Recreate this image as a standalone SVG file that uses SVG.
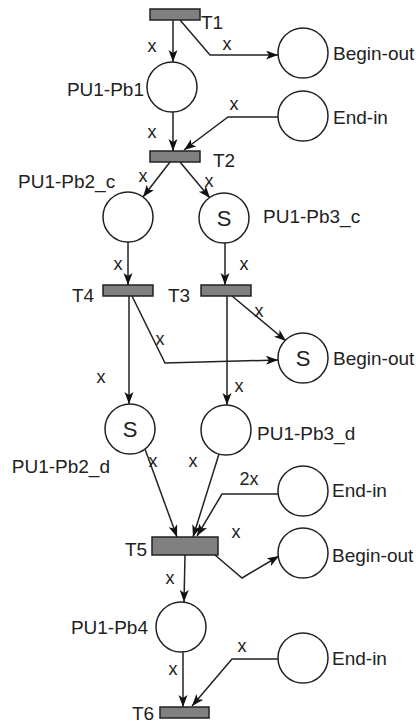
<svg xmlns="http://www.w3.org/2000/svg" width="416" height="724" viewBox="0 0 416 724">
<defs>
<marker id="ah" markerUnits="userSpaceOnUse" markerWidth="14" markerHeight="10" refX="12" refY="4.5" orient="auto">
<path d="M0,0 L12,4.5 L0,9 L3,4.5 z" fill="#111"/>
</marker>
<style>
.pl{fill:#fff;stroke:#222;stroke-width:1.5}
.tr{fill:#808080;stroke:#222;stroke-width:1.5}
.lb{font-family:"Liberation Sans",Arial,sans-serif;font-size:19px;fill:#222}
.s{font-family:"Liberation Sans",Arial,sans-serif;font-size:22px;fill:#222;text-anchor:middle}
.ax{font-family:"Liberation Sans",Arial,sans-serif;font-size:18px;fill:#222;text-anchor:middle}
.c{fill:none;stroke:#222;stroke-width:1.5;marker-end:url(#ah)}
</style>
</defs>
<rect width="416" height="724" fill="#fff"/>
<g id="connectors">
<path class="c" d="M173,20 L173,62"/>
<path class="c" d="M180,20 L210,55 L278,55"/>
<path class="c" d="M173,112 L173,151"/>
<path class="c" d="M278,117 L228,117 L184,150"/>
<path class="c" d="M170,162 L143,197"/>
<path class="c" d="M180,162 L210,198"/>
<path class="c" d="M128,242 L128,285"/>
<path class="c" d="M225,243 L225,285"/>
<path class="c" d="M129,296 L129,404"/>
<path class="c" d="M132,296 L165,363 L278,360"/>
<path class="c" d="M232,296 L286,341"/>
<path class="c" d="M227,296 L227,405"/>
<path class="c" d="M145,449 L177,537"/>
<path class="c" d="M219,454 L193,537"/>
<path class="c" d="M278,494 L222,494 L197,536"/>
<path class="c" d="M185,555 L184,602"/>
<path class="c" d="M215,555 L242,578 L279,556"/>
<path class="c" d="M183,652 L183,707"/>
<path class="c" d="M278,659 L232,659 L192,706"/>
<text class="ax" x="152" y="52">x</text>
<text class="ax" x="227" y="50">x</text>
<text class="ax" x="234" y="110">x</text>
<text class="ax" x="152" y="138">x</text>
<text class="ax" x="143" y="182">x</text>
<text class="ax" x="209" y="187">x</text>
<text class="ax" x="118" y="270">x</text>
<text class="ax" x="244" y="270">x</text>
<text class="ax" x="259" y="317">x</text>
<text class="ax" x="160" y="345">x</text>
<text class="ax" x="101" y="383">x</text>
<text class="ax" x="239" y="392">x</text>
<text class="ax" x="153" y="467">x</text>
<text class="ax" x="193" y="467">x</text>
<text class="ax" x="249" y="485">2x</text>
<text class="ax" x="236" y="538">x</text>
<text class="ax" x="170" y="584">x</text>
<text class="ax" x="173" y="675">x</text>
<text class="ax" x="242" y="652">x</text>
</g>
<g id="T1"><rect class="tr" x="150" y="9" width="50" height="11"/><text class="lb" x="201" y="29">T1</text></g>
<g id="PU1-Pb1"><circle class="pl" cx="172" cy="87" r="25"/><text class="lb" x="144" y="96" text-anchor="end">PU1-Pb1</text></g>
<g id="Begin-out1"><circle class="pl" cx="303" cy="53" r="25"/><text class="lb" x="333" y="60">Begin-out</text></g>
<g id="End-in1"><circle class="pl" cx="303" cy="116" r="25"/><text class="lb" x="333" y="124">End-in</text></g>
<g id="T2"><rect class="tr" x="150" y="151" width="50" height="11"/><text class="lb" x="213" y="167">T2</text></g>
<g id="PU1-Pb2_c"><circle class="pl" cx="128" cy="217" r="25"/><text class="lb" x="18" y="188">PU1-Pb2_c</text></g>
<g id="PU1-Pb3_c"><circle class="pl" cx="224" cy="218" r="25"/><text class="s" x="224" y="226">S</text><text class="lb" x="263" y="223">PU1-Pb3_c</text></g>
<g id="T4"><rect class="tr" x="103" y="285" width="50" height="11"/><text class="lb" x="72" y="302">T4</text></g>
<g id="T3"><rect class="tr" x="201" y="285" width="50" height="11"/><text class="lb" x="168" y="302">T3</text></g>
<g id="Begin-out2"><circle class="pl" cx="303" cy="358" r="25"/><text class="s" x="303" y="366">S</text><text class="lb" x="333" y="365">Begin-out</text></g>
<g id="PU1-Pb2_d"><circle class="pl" cx="130" cy="429" r="25"/><text class="s" x="130" y="437">S</text><text class="lb" x="110" y="473" text-anchor="end">PU1-Pb2_d</text></g>
<g id="PU1-Pb3_d"><circle class="pl" cx="226" cy="430" r="25"/><text class="lb" x="257" y="440">PU1-Pb3_d</text></g>
<g id="End-in2"><circle class="pl" cx="303" cy="491" r="25"/><text class="lb" x="332" y="497">End-in</text></g>
<g id="T5"><rect class="tr" x="152" y="537" width="66" height="18"/><text class="lb" x="125" y="556">T5</text></g>
<g id="Begin-out3"><circle class="pl" cx="303" cy="553" r="25"/><text class="lb" x="332" y="562">Begin-out</text></g>
<g id="PU1-Pb4"><circle class="pl" cx="181" cy="627" r="25"/><text class="lb" x="148" y="634" text-anchor="end">PU1-Pb4</text></g>
<g id="End-in3"><circle class="pl" cx="303" cy="658" r="25"/><text class="lb" x="332" y="665">End-in</text></g>
<g id="T6"><rect class="tr" x="160" y="707" width="49" height="11"/><text class="lb" x="132" y="720">T6</text></g>
</svg>
